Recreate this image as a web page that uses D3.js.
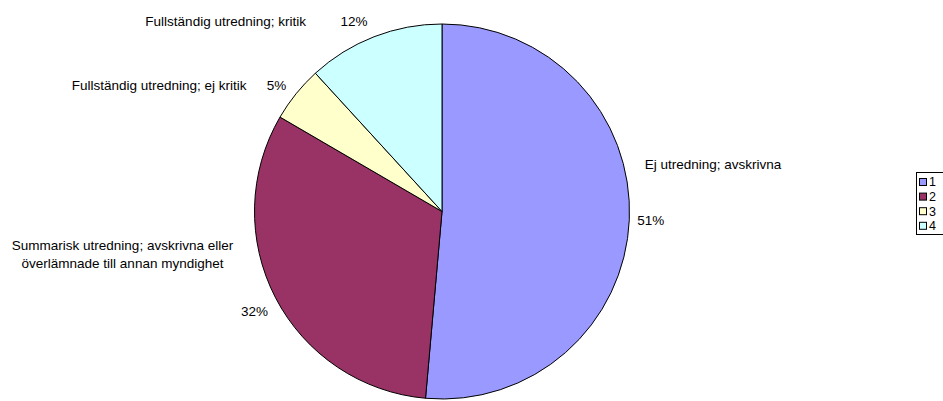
<!DOCTYPE html>
<html>
<head>
<meta charset="utf-8">
<script src="https://cdn.jsdelivr.net/npm/d3@7"></script>
<style>
  body { margin: 0; background: #fff; }
  text { font-family: "Liberation Sans", Arial, sans-serif; fill: #000; }
</style>
</head>
<body>
<svg id="chart" width="943" height="401"></svg>
<script>
// data
const categories = [
  "Ej utredning; avskrivna",
  "Summarisk utredning; avskrivna eller överlämnade till annan myndighet",
  "Fullständig utredning; ej kritik",
  "Fullständig utredning; kritik"
];
const values = [51.4, 32.0, 4.8, 11.8];
const legendLabels = ["1", "2", "3", "4"];
const colors = ["#9999FF", "#993366", "#FFFFCC", "#CCFFFF"];

// label lines (category text split the way the chart wraps it)
const labelLines = [
  ["Ej utredning; avskrivna"],
  ["Summarisk utredning; avskrivna eller", "överlämnade till annan myndighet"],
  ["Fullständig utredning; ej kritik"],
  ["Fullständig utredning; kritik"]
];

const svg = d3.select("#chart"),
  cx = 442, cy = 211.5, radius = 187.5;

const pie = d3.pie().sort(null).value(d => d);
const arcs = pie(values);
const arc = d3.arc().innerRadius(0).outerRadius(radius);
const labelArc = d3.arc().innerRadius(210).outerRadius(210);

const g = svg.append("g").attr("transform", `translate(${cx},${cy})`);

g.selectAll("path.slice")
  .data(arcs)
  .enter()
  .append("path")
  .attr("class", "slice")
  .attr("d", arc)
  .attr("fill", (d, i) => colors[i])
  .attr("stroke", "#000")
  .attr("stroke-width", 1);

// nudges for the percent label and the category label (relative to percent)
const layout = [
  { pdx: -1, pdy: 0, cdx: -6, cdy: -56, anchor: "start" },
  { pdx: -1, pdy: 3, cdx: -132, cdy: -66, anchor: "middle" },
  { pdx: -2, pdy: 6, cdx: -30, cdy: 0, anchor: "end" },
  { pdx: -12, pdy: 5, cdx: -48, cdy: 0, anchor: "end" }
];

const fmt = d3.format(".0f");
const total = d3.sum(values);

arcs.forEach((d, i) => {
  const [px, py] = labelArc.centroid(d);
  const lx = px + layout[i].pdx, ly = py + layout[i].pdy;
  g.append("text")
    .attr("x", lx)
    .attr("y", ly)
    .attr("dy", "0.35em")
    .attr("text-anchor", "middle")
    .style("font-size", "13.5px")
    .text(fmt(d.data / total * 100) + "%");

  const t = g.append("text")
    .attr("text-anchor", layout[i].anchor)
    .style("font-size", "13.5px");
  labelLines[i].forEach((line, k) => {
    t.append("tspan")
      .attr("x", lx + layout[i].cdx)
      .attr("y", ly + layout[i].cdy + k * 18.5)
      .attr("dy", "0.35em")
      .text(line);
  });
});

// legend
const legend = svg.append("g").attr("transform", "translate(916,172)");
legend.append("rect")
  .attr("x", 0.5).attr("y", 0.5)
  .attr("width", 40).attr("height", 62)
  .attr("fill", "#fff")
  .attr("stroke", "#000");

const item = legend.selectAll("g.item")
  .data(legendLabels)
  .enter()
  .append("g")
  .attr("class", "item")
  .attr("transform", (d, i) => `translate(3,${10 + i * 14.6})`);

item.append("rect")
  .attr("x", 0.5).attr("y", -3.5)
  .attr("width", 7).attr("height", 7)
  .attr("fill", (d, i) => colors[i])
  .attr("stroke", "#000");

item.append("text")
  .attr("x", 10)
  .attr("y", 0)
  .attr("dy", "0.35em")
  .style("font-size", "12.5px")
  .text(d => d);
</script>
</body>
</html>
